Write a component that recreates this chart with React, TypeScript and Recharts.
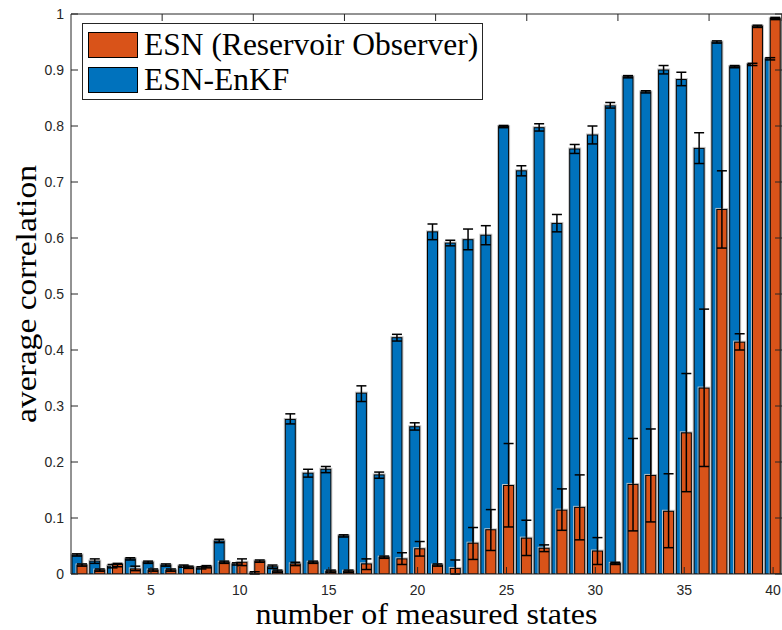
import React from "react"
import { BarChart, Bar, XAxis, YAxis, ErrorBar, Label } from "recharts"

const states = [
  1, 2, 3, 4, 5, 6, 7, 8, 9, 10, 11, 12, 13, 14, 15, 16, 17, 18, 19, 20,
  21, 22, 23, 24, 25, 26, 27, 28, 29, 30, 31, 32, 33, 34, 35, 36, 37, 38, 39, 40,
]

// ESN (Reservoir Observer)
const esn = [
  0.016, 0.007, 0.017, 0.009, 0.007, 0.007, 0.012, 0.013, 0.021, 0.021,
  0.023, 0.005, 0.018, 0.021, 0.005, 0.005, 0.018, 0.03, 0.027, 0.045,
  0.016, 0.01, 0.055, 0.079, 0.158, 0.064, 0.046, 0.114, 0.119, 0.041,
  0.019, 0.16, 0.176, 0.112, 0.252, 0.332, 0.651, 0.414, 0.978, 0.992,
]
const esnLo = [
  0.014, 0.005, 0.013, 0.006, 0.005, 0.005, 0.01, 0.011, 0.019, 0.015,
  0.021, 0.003, 0.015, 0.019, 0.003, 0.003, 0.008, 0.028, 0.017, 0.032,
  0.014, 0.0, 0.026, 0.042, 0.084, 0.033, 0.04, 0.078, 0.061, 0.017,
  0.017, 0.077, 0.093, 0.047, 0.147, 0.192, 0.582, 0.4, 0.976, 0.99,
]
const esnHi = [
  0.018, 0.009, 0.019, 0.014, 0.009, 0.009, 0.014, 0.015, 0.023, 0.027,
  0.025, 0.007, 0.021, 0.023, 0.007, 0.007, 0.027, 0.032, 0.038, 0.058,
  0.018, 0.025, 0.083, 0.115, 0.233, 0.096, 0.052, 0.152, 0.177, 0.065,
  0.021, 0.242, 0.259, 0.179, 0.358, 0.473, 0.72, 0.429, 0.98, 0.994,
]

// ESN-EnKF
const enkf = [
  0.034, 0.023, 0.014, 0.027, 0.021, 0.016, 0.014, 0.011, 0.059, 0.018,
  0.002, 0.013, 0.276, 0.18, 0.187, 0.068, 0.323, 0.177, 0.422, 0.263,
  0.611, 0.591, 0.597, 0.605, 0.799, 0.72, 0.797, 0.626, 0.759, 0.784,
  0.836, 0.888, 0.861, 0.9, 0.883, 0.76, 0.95, 0.906, 0.91, 0.92,
]
const enkfLo = [
  0.032, 0.019, 0.011, 0.025, 0.019, 0.014, 0.012, 0.009, 0.056, 0.016,
  0.0, 0.01, 0.268, 0.173, 0.181, 0.066, 0.308, 0.171, 0.416, 0.257,
  0.597, 0.586, 0.579, 0.588, 0.797, 0.711, 0.791, 0.611, 0.751, 0.768,
  0.832, 0.886, 0.859, 0.893, 0.872, 0.733, 0.948, 0.904, 0.908, 0.918,
]
const enkfHi = [
  0.036, 0.027, 0.017, 0.029, 0.023, 0.018, 0.016, 0.013, 0.062, 0.02,
  0.004, 0.016, 0.286, 0.187, 0.192, 0.07, 0.336, 0.182, 0.428, 0.27,
  0.625, 0.596, 0.616, 0.622, 0.801, 0.729, 0.804, 0.642, 0.767, 0.8,
  0.842, 0.89, 0.863, 0.908, 0.896, 0.788, 0.952, 0.908, 0.912, 0.922,
]

const xTicks = [5, 10, 15, 20, 25, 30, 35, 40]
const yTicks = [0, 0.1, 0.2, 0.3, 0.4, 0.5, 0.6, 0.7, 0.8, 0.9, 1]

const BLUE = "#0072BD"
const ORANGE = "#D95319"
const AXIS = "#262626"
const SERIF = "'Liberation Serif', 'Times New Roman', serif"
const SANS = "'Liberation Sans', Arial, Helvetica, sans-serif"

const data = states.map((n, i) => ({
  n,
  esn: esn[i],
  esnErr: [esn[i] - esnLo[i], esnHi[i] - esn[i]],
  enkf: enkf[i],
  enkfErr: [enkf[i] - enkfLo[i], enkfHi[i] - enkf[i]],
}))

const fmtY = (v: number) => (v === 0 ? "0" : v === 1 ? "1" : v.toFixed(1))

function BottomTick({ x, y, payload }: any) {
  if (payload.value % 5 !== 0) return <g />
  return (
    <g>
      <line x1={x} x2={x} y1={y} y2={y - 7} stroke={AXIS} strokeWidth={1} />
      <text x={x} y={y + 20.5} textAnchor="middle" fontFamily={SANS} fontSize={14} fill={AXIS}>
        {payload.value}
      </text>
    </g>
  )
}

function TopTick({ x, y }: any) {
  return <line x1={x} x2={x} y1={y} y2={y + 7} stroke={AXIS} strokeWidth={1} />
}

function LeftTick({ x, y, payload }: any) {
  return (
    <g>
      <line x1={x} x2={x + 7} y1={y} y2={y} stroke={AXIS} strokeWidth={1} />
      <text x={x - 7} y={y + 5} textAnchor="end" fontFamily={SANS} fontSize={14} fill={AXIS}>
        {fmtY(payload.value)}
      </text>
    </g>
  )
}

function RightTick({ x, y }: any) {
  return <line x1={x - 7} x2={x} y1={y} y2={y} stroke={AXIS} strokeWidth={1} />
}

// bar with a thin grey halo round the black edge
function HaloBar(props: any) {
  const { x, y, width, height, fill } = props
  if (!height || height <= 0) return <g />
  return (
    <g>
      <rect x={x - 1} y={y - 1} width={width + 2} height={height + 1} fill="none" stroke="#c4c4c4" strokeWidth={1} />
      <rect x={x} y={y} width={width} height={height} fill={fill} stroke="#000" strokeWidth={1} />
    </g>
  )
}

function Swatch({ color }: { color: string }) {
  return (
    <div
      style={{
        width: 48,
        height: 24,
        background: color,
        border: "1px solid #000",
        marginRight: 6,
        flex: "none",
      }}
    />
  )
}

export default function App() {
  return (
    <div style={{ position: "relative", width: 782, height: 630, overflow: "hidden", background: "#fff" }}>
      <style>{"body{margin:0}"}</style>
      <BarChart
        width={790}
        height={630}
        data={data}
        margin={{ top: 4, right: 0, bottom: 0, left: 0 }}
        barGap={-5}
      >
        <Bar dataKey="enkf" fill={BLUE} barSize={10} isAnimationActive={false} shape={HaloBar}>
          <ErrorBar dataKey="enkfErr" width={5} stroke="#000" strokeWidth={1.5} isAnimationActive={false} />
        </Bar>
        <Bar dataKey="esn" fill={ORANGE} barSize={10} isAnimationActive={false} shape={HaloBar}>
          <ErrorBar dataKey="esnErr" width={5} stroke="#000" strokeWidth={1.5} isAnimationActive={false} />
        </Bar>
        <XAxis
          dataKey="n"
          type="category"
          height={56}
          interval={0}
          tickLine={false}
          tickSize={0}
          tickMargin={0}
          axisLine={{ stroke: AXIS }}
          tick={BottomTick}
        >
          <Label
            content={() => (
              <text
                x={426.5}
                y={623.5}
                textAnchor="middle"
                fontFamily={SERIF}
                fontSize={29}
                textLength={342}
                lengthAdjust="spacingAndGlyphs"
                fill="#000"
              >
                number of measured states
              </text>
            )}
          />
        </XAxis>
        <XAxis
          xAxisId="top"
          orientation="top"
          type="number"
          domain={[0.5, 40.5]}
          ticks={xTicks}
          allowDataOverflow
          height={10}
          tickLine={false}
          tickSize={0}
          tickMargin={0}
          axisLine={{ stroke: AXIS }}
          tick={TopTick}
        />
        <YAxis
          type="number"
          domain={[0, 1]}
          ticks={yTicks}
          allowDataOverflow
          width={71}
          tickLine={false}
          tickSize={0}
          tickMargin={0}
          axisLine={{ stroke: AXIS }}
          tick={LeftTick}
        >
          <Label
            content={() => (
              <text
                x={0}
                y={0}
                transform="translate(36,294) rotate(-90)"
                textAnchor="middle"
                fontFamily={SERIF}
                fontSize={29}
                textLength={258}
                lengthAdjust="spacingAndGlyphs"
                fill="#000"
              >
                average correlation
              </text>
            )}
          />
        </YAxis>
        <YAxis
          yAxisId="right"
          orientation="right"
          type="number"
          domain={[0, 1]}
          ticks={yTicks}
          allowDataOverflow
          width={8}
          tickLine={false}
          tickSize={0}
          tickMargin={0}
          axisLine={{ stroke: AXIS }}
          tick={RightTick}
        />
      </BarChart>
      <div
        style={{
          position: "absolute",
          left: 82,
          top: 23,
          width: 401,
          height: 77,
          boxSizing: "border-box",
          border: `1px solid ${AXIS}`,
          background: "#fff",
          fontFamily: SERIF,
          fontSize: 31.5,
          color: "#000",
          padding: "7px 0 0 5px",
        }}
      >
        <div style={{ display: "flex", alignItems: "center", height: 27, marginBottom: 8 }}>
          <Swatch color={ORANGE} />
          <span style={{ whiteSpace: "nowrap" }}>ESN (Reservoir Observer)</span>
        </div>
        <div style={{ display: "flex", alignItems: "center", height: 27 }}>
          <Swatch color={BLUE} />
          <span style={{ whiteSpace: "nowrap" }}>ESN-EnKF</span>
        </div>
      </div>
    </div>
  )
}
